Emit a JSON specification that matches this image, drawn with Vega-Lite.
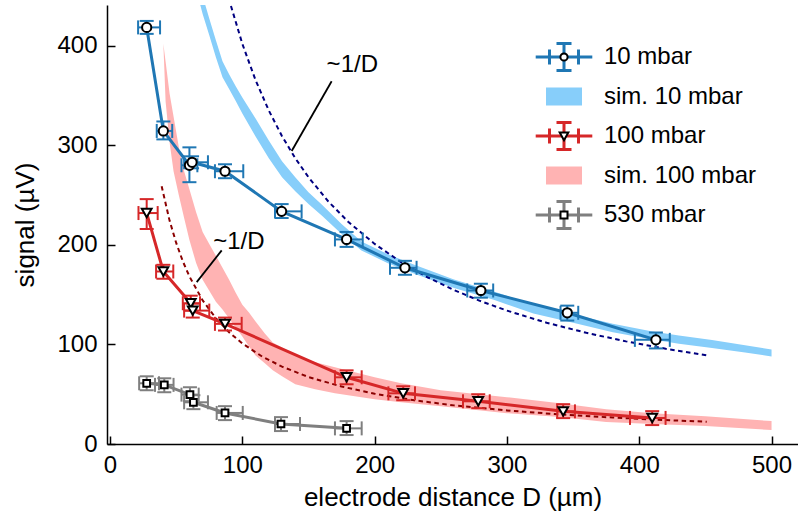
{
  "$schema": "https://vega.github.io/schema/vega-lite/v6.json",
  "width": 691,
  "height": 439,
  "autosize": {"type": "none"},
  "padding": {"left": 107, "top": 5, "right": 0, "bottom": 67},
  "background": "white",
  "config": {
    "font": "Liberation Sans",
    "view": {"stroke": null},
    "axis": {"labelColor": "black", "titleColor": "black", "domainColor": "black", "tickColor": "black", "grid": false, "labelFont": "Liberation Sans", "titleFont": "Liberation Sans", "titleFontWeight": "normal"}
  },
  "resolve": {"scale": {"shape": "independent", "fill": "independent", "stroke": "independent"}},
  "datasets": {
    "meas": [
      {"series": "10 mbar", "mk": "a", "D": 27.7, "S": 418.5, "xlo": 21.2, "xhi": 37.8, "ylo": 412, "yhi": 425},
      {"series": "10 mbar", "mk": "a", "D": 40.3, "S": 314.5, "xlo": 35.3, "xhi": 47, "ylo": 306, "yhi": 324},
      {"series": "10 mbar", "mk": "a", "D": 60, "S": 280, "xlo": 54, "xhi": 66, "ylo": 263, "yhi": 298},
      {"series": "10 mbar", "mk": "a", "D": 62, "S": 283, "xlo": 56, "xhi": 74, "ylo": 277, "yhi": 289},
      {"series": "10 mbar", "mk": "a", "D": 86.9, "S": 274, "xlo": 79.3, "xhi": 100.7, "ylo": 267, "yhi": 281},
      {"series": "10 mbar", "mk": "a", "D": 129.7, "S": 233.7, "xlo": 124.7, "xhi": 144.8, "ylo": 227, "yhi": 241},
      {"series": "10 mbar", "mk": "a", "D": 178.8, "S": 205.5, "xlo": 170, "xhi": 191, "ylo": 198, "yhi": 213},
      {"series": "10 mbar", "mk": "a", "D": 222.9, "S": 177, "xlo": 211.6, "xhi": 231.7, "ylo": 170, "yhi": 184},
      {"series": "10 mbar", "mk": "a", "D": 280.3, "S": 154.2, "xlo": 270, "xhi": 289.6, "ylo": 147, "yhi": 161},
      {"series": "10 mbar", "mk": "a", "D": 345.6, "S": 131.8, "xlo": 340.5, "xhi": 353.9, "ylo": 124, "yhi": 139},
      {"series": "10 mbar", "mk": "a", "D": 412.6, "S": 104.6, "xlo": 396.7, "xhi": 423.1, "ylo": 96, "yhi": 112},
      {"series": "100 mbar", "mk": "c", "D": 27.7, "S": 232, "xlo": 21.5, "xhi": 36, "ylo": 216, "yhi": 246},
      {"series": "100 mbar", "mk": "c", "D": 40.3, "S": 173.3, "xlo": 34.8, "xhi": 47.8, "ylo": 166, "yhi": 180},
      {"series": "100 mbar", "mk": "c", "D": 61, "S": 141.4, "xlo": 55, "xhi": 68, "ylo": 134, "yhi": 149},
      {"series": "100 mbar", "mk": "c", "D": 62.5, "S": 134, "xlo": 56, "xhi": 75, "ylo": 127, "yhi": 141},
      {"series": "100 mbar", "mk": "c", "D": 86.9, "S": 120.7, "xlo": 79.3, "xhi": 99.5, "ylo": 114, "yhi": 127},
      {"series": "100 mbar", "mk": "c", "D": 178.8, "S": 67, "xlo": 170, "xhi": 190.2, "ylo": 60, "yhi": 74},
      {"series": "100 mbar", "mk": "c", "D": 221.6, "S": 50.9, "xlo": 210.4, "xhi": 230.5, "ylo": 44, "yhi": 58},
      {"series": "100 mbar", "mk": "c", "D": 278.3, "S": 42.9, "xlo": 266.8, "xhi": 287, "ylo": 36, "yhi": 50},
      {"series": "100 mbar", "mk": "c", "D": 342.5, "S": 32.8, "xlo": 338, "xhi": 351.4, "ylo": 26, "yhi": 40},
      {"series": "100 mbar", "mk": "c", "D": 409.8, "S": 26.2, "xlo": 393, "xhi": 419.9, "ylo": 19, "yhi": 33},
      {"series": "530 mbar", "mk": "e", "D": 27.7, "S": 61, "xlo": 22, "xhi": 37, "ylo": 54, "yhi": 68},
      {"series": "530 mbar", "mk": "e", "D": 41, "S": 59.4, "xlo": 34, "xhi": 48, "ylo": 52, "yhi": 66},
      {"series": "530 mbar", "mk": "e", "D": 60.4, "S": 49.6, "xlo": 54, "xhi": 67, "ylo": 43, "yhi": 57},
      {"series": "530 mbar", "mk": "e", "D": 63, "S": 41.9, "xlo": 56, "xhi": 74, "ylo": 35, "yhi": 49},
      {"series": "530 mbar", "mk": "e", "D": 86.9, "S": 31.2, "xlo": 80.6, "xhi": 100.3, "ylo": 24, "yhi": 38},
      {"series": "530 mbar", "mk": "e", "D": 129.2, "S": 20.1, "xlo": 124.7, "xhi": 143.6, "ylo": 13, "yhi": 27},
      {"series": "530 mbar", "mk": "e", "D": 178.8, "S": 15.7, "xlo": 170, "xhi": 190.2, "ylo": 9, "yhi": 23}
    ],
    "sim": [
      {"series": "sim. 10 mbar", "D": 66, "lo": 452, "hi": 470},
      {"series": "sim. 10 mbar", "D": 70, "lo": 432, "hi": 450},
      {"series": "sim. 10 mbar", "D": 75, "lo": 410.5, "hi": 427.5},
      {"series": "sim. 10 mbar", "D": 80, "lo": 388.5, "hi": 405.5},
      {"series": "sim. 10 mbar", "D": 85, "lo": 368.5, "hi": 384.5},
      {"series": "sim. 10 mbar", "D": 90, "lo": 356.5, "hi": 371.5},
      {"series": "sim. 10 mbar", "D": 95, "lo": 344.5, "hi": 359.5},
      {"series": "sim. 10 mbar", "D": 100, "lo": 332, "hi": 348},
      {"series": "sim. 10 mbar", "D": 110, "lo": 309, "hi": 327},
      {"series": "sim. 10 mbar", "D": 120, "lo": 287, "hi": 305},
      {"series": "sim. 10 mbar", "D": 130, "lo": 268, "hi": 284},
      {"series": "sim. 10 mbar", "D": 140, "lo": 254, "hi": 268},
      {"series": "sim. 10 mbar", "D": 150, "lo": 241, "hi": 253},
      {"series": "sim. 10 mbar", "D": 160, "lo": 229.5, "hi": 240.5},
      {"series": "sim. 10 mbar", "D": 175, "lo": 211, "hi": 221},
      {"series": "sim. 10 mbar", "D": 190, "lo": 194.5, "hi": 203.5},
      {"series": "sim. 10 mbar", "D": 210, "lo": 181.5, "hi": 190.5},
      {"series": "sim. 10 mbar", "D": 230, "lo": 171, "hi": 180},
      {"series": "sim. 10 mbar", "D": 260, "lo": 156.8, "hi": 165.3},
      {"series": "sim. 10 mbar", "D": 290, "lo": 144.8, "hi": 153.3},
      {"series": "sim. 10 mbar", "D": 320, "lo": 131, "hi": 140},
      {"series": "sim. 10 mbar", "D": 350, "lo": 121.8, "hi": 130.3},
      {"series": "sim. 10 mbar", "D": 380, "lo": 112.3, "hi": 120.7},
      {"series": "sim. 10 mbar", "D": 410, "lo": 105, "hi": 113},
      {"series": "sim. 10 mbar", "D": 430, "lo": 100.6, "hi": 109},
      {"series": "sim. 10 mbar", "D": 455, "lo": 96.5, "hi": 104.5},
      {"series": "sim. 10 mbar", "D": 480, "lo": 91.8, "hi": 99.3},
      {"series": "sim. 10 mbar", "D": 500, "lo": 88, "hi": 95},
      {"series": "sim. 100 mbar", "D": 40.3, "lo": 402, "hi": 402},
      {"series": "sim. 100 mbar", "D": 42, "lo": 344, "hi": 384},
      {"series": "sim. 100 mbar", "D": 45, "lo": 303, "hi": 352},
      {"series": "sim. 100 mbar", "D": 48, "lo": 274, "hi": 329},
      {"series": "sim. 100 mbar", "D": 52, "lo": 250, "hi": 298},
      {"series": "sim. 100 mbar", "D": 56, "lo": 227, "hi": 274},
      {"series": "sim. 100 mbar", "D": 60, "lo": 205, "hi": 256},
      {"series": "sim. 100 mbar", "D": 65, "lo": 182, "hi": 233},
      {"series": "sim. 100 mbar", "D": 70, "lo": 165, "hi": 213},
      {"series": "sim. 100 mbar", "D": 75, "lo": 154, "hi": 201},
      {"series": "sim. 100 mbar", "D": 80, "lo": 143, "hi": 189},
      {"series": "sim. 100 mbar", "D": 85, "lo": 135, "hi": 177},
      {"series": "sim. 100 mbar", "D": 90, "lo": 126, "hi": 165},
      {"series": "sim. 100 mbar", "D": 95, "lo": 117, "hi": 152},
      {"series": "sim. 100 mbar", "D": 100, "lo": 108, "hi": 140},
      {"series": "sim. 100 mbar", "D": 105, "lo": 98, "hi": 132},
      {"series": "sim. 100 mbar", "D": 110, "lo": 89, "hi": 123},
      {"series": "sim. 100 mbar", "D": 117, "lo": 81, "hi": 111},
      {"series": "sim. 100 mbar", "D": 123, "lo": 74, "hi": 102},
      {"series": "sim. 100 mbar", "D": 130, "lo": 68, "hi": 97},
      {"series": "sim. 100 mbar", "D": 140, "lo": 60, "hi": 90},
      {"series": "sim. 100 mbar", "D": 155, "lo": 55, "hi": 82},
      {"series": "sim. 100 mbar", "D": 170, "lo": 51, "hi": 77},
      {"series": "sim. 100 mbar", "D": 185, "lo": 48, "hi": 72},
      {"series": "sim. 100 mbar", "D": 200, "lo": 45, "hi": 67},
      {"series": "sim. 100 mbar", "D": 220, "lo": 42, "hi": 61},
      {"series": "sim. 100 mbar", "D": 250, "lo": 38, "hi": 54},
      {"series": "sim. 100 mbar", "D": 300, "lo": 31, "hi": 47},
      {"series": "sim. 100 mbar", "D": 340, "lo": 27, "hi": 41},
      {"series": "sim. 100 mbar", "D": 375, "lo": 22, "hi": 35},
      {"series": "sim. 100 mbar", "D": 410, "lo": 20, "hi": 31},
      {"series": "sim. 100 mbar", "D": 450, "lo": 18, "hi": 28},
      {"series": "sim. 100 mbar", "D": 500, "lo": 14, "hi": 23}
    ],
    "fit": [
      {"fit": "10", "D": 91.4, "S": 440},
      {"fit": "10", "D": 100, "S": 402},
      {"fit": "10", "D": 110, "S": 365.5},
      {"fit": "10", "D": 120, "S": 335},
      {"fit": "10", "D": 130, "S": 309.2},
      {"fit": "10", "D": 140, "S": 287.1},
      {"fit": "10", "D": 150, "S": 268},
      {"fit": "10", "D": 165, "S": 243.6},
      {"fit": "10", "D": 180, "S": 223.3},
      {"fit": "10", "D": 200, "S": 201},
      {"fit": "10", "D": 220, "S": 182.7},
      {"fit": "10", "D": 240, "S": 167.5},
      {"fit": "10", "D": 260, "S": 154.6},
      {"fit": "10", "D": 280, "S": 143.6},
      {"fit": "10", "D": 300, "S": 134},
      {"fit": "10", "D": 330, "S": 121.8},
      {"fit": "10", "D": 360, "S": 111.7},
      {"fit": "10", "D": 390, "S": 103.1},
      {"fit": "10", "D": 420, "S": 95.7},
      {"fit": "10", "D": 452, "S": 88.9},
      {"fit": "100", "D": 39, "S": 259},
      {"fit": "100", "D": 45, "S": 224.4},
      {"fit": "100", "D": 50, "S": 202},
      {"fit": "100", "D": 55, "S": 183.6},
      {"fit": "100", "D": 60, "S": 168.3},
      {"fit": "100", "D": 70, "S": 144.3},
      {"fit": "100", "D": 80, "S": 126.3},
      {"fit": "100", "D": 90, "S": 112.2},
      {"fit": "100", "D": 100, "S": 101},
      {"fit": "100", "D": 115, "S": 87.8},
      {"fit": "100", "D": 130, "S": 77.7},
      {"fit": "100", "D": 150, "S": 67.3},
      {"fit": "100", "D": 175, "S": 57.7},
      {"fit": "100", "D": 200, "S": 50.5},
      {"fit": "100", "D": 230, "S": 43.9},
      {"fit": "100", "D": 260, "S": 38.8},
      {"fit": "100", "D": 300, "S": 33.7},
      {"fit": "100", "D": 340, "S": 29.7},
      {"fit": "100", "D": 380, "S": 26.6},
      {"fit": "100", "D": 420, "S": 24},
      {"fit": "100", "D": 451, "S": 22.4}
    ],
    "annLines": [
      {"D": 167.5, "S": 364.4, "D2": 137.3, "S2": 294.4},
      {"D": 84.4, "S": 194.5, "D2": 65.5, "S2": 162.6}
    ],
    "annText": [
      {"D": 163.7, "S": 373.8, "t": "~1/D"},
      {"D": 78, "S": 196.2, "t": "~1/D"}
    ]
  },
  "layer": [
    {
      "data": {"name": "sim"},
      "mark": {"type": "area", "clip": true, "opacity": 1},
      "encoding": {
        "x": {"field": "D", "type": "quantitative", "scale": {"domain": [-2.3, 520], "nice": false, "zero": false},
              "axis": {"values": [0, 100, 200, 300, 400, 500], "tickSize": -8, "tickWidth": 1.5, "domainWidth": 1.5, "labelFontSize": 24, "labelPadding": 17, "labelFlush": false, "title": "electrode distance D (µm)", "titleFontSize": 26, "titleY": 61, "titleBaseline": "alphabetic"}},
        "y": {"field": "hi", "type": "quantitative", "scale": {"domain": [0, 441], "nice": false, "zero": false},
              "axis": {"values": [0, 100, 200, 300, 400], "tickSize": -8, "tickWidth": 1.5, "domainWidth": 1.5, "labelFontSize": 24, "labelPadding": 18, "labelFlush": false, "title": "signal (µV)", "titleFontSize": 26, "titleX": -74, "titleY": 219.5, "titleBaseline": "alphabetic"}},
        "y2": {"field": "lo"},
        "color": {"field": "series", "type": "nominal",
          "scale": {"domain": ["10 mbar", "sim. 10 mbar", "100 mbar", "sim. 100 mbar", "530 mbar"], "range": ["#1f77b4", "#87cefa", "#d62728", "#ffb3b3", "#7f7f7f"]},
          "legend": null
        }
      }
    },
    {
      "data": {"name": "fit"},
      "transform": [{"filter": "datum.fit == '10'"}],
      "mark": {"type": "line", "stroke": "#000080", "strokeWidth": 2, "strokeDash": [4.5, 3.5], "clip": true},
      "encoding": {"x": {"field": "D", "type": "quantitative"}, "y": {"field": "S", "type": "quantitative"}}
    },
    {
      "data": {"name": "fit"},
      "transform": [{"filter": "datum.fit == '100'"}],
      "mark": {"type": "line", "stroke": "#8b0000", "strokeWidth": 2, "strokeDash": [4.5, 3.5], "clip": true},
      "encoding": {"x": {"field": "D", "type": "quantitative"}, "y": {"field": "S", "type": "quantitative"}}
    },
    {
      "data": {"name": "meas"},
      "mark": {"type": "line", "strokeWidth": 3},
      "encoding": {"x": {"field": "D", "type": "quantitative"}, "y": {"field": "S", "type": "quantitative"}, "color": {"field": "series", "type": "nominal", "legend": null}}
    },
    {
      "data": {"name": "meas"},
      "mark": {"type": "rule", "strokeWidth": 2},
      "encoding": {"x": {"field": "xlo", "type": "quantitative"}, "x2": {"field": "xhi"}, "y": {"field": "S", "type": "quantitative"}, "color": {"field": "series", "type": "nominal", "legend": null}}
    },
    {
      "data": {"name": "meas"},
      "mark": {"type": "rule", "strokeWidth": 2},
      "encoding": {"x": {"field": "D", "type": "quantitative"}, "y": {"field": "ylo", "type": "quantitative"}, "y2": {"field": "yhi"}, "color": {"field": "series", "type": "nominal", "legend": null}}
    },
    {
      "data": {"name": "meas"},
      "mark": {"type": "tick", "orient": "vertical", "size": 14, "thickness": 2, "opacity": 1},
      "encoding": {"x": {"field": "xlo", "type": "quantitative"}, "y": {"field": "S", "type": "quantitative"}, "color": {"field": "series", "type": "nominal", "legend": null}}
    },
    {
      "data": {"name": "meas"},
      "mark": {"type": "tick", "orient": "vertical", "size": 14, "thickness": 2, "opacity": 1},
      "encoding": {"x": {"field": "xhi", "type": "quantitative"}, "y": {"field": "S", "type": "quantitative"}, "color": {"field": "series", "type": "nominal", "legend": null}}
    },
    {
      "data": {"name": "meas"},
      "mark": {"type": "tick", "orient": "horizontal", "size": 14, "thickness": 2, "opacity": 1},
      "encoding": {"x": {"field": "D", "type": "quantitative"}, "y": {"field": "ylo", "type": "quantitative"}, "color": {"field": "series", "type": "nominal", "legend": null}}
    },
    {
      "data": {"name": "meas"},
      "mark": {"type": "tick", "orient": "horizontal", "size": 14, "thickness": 2, "opacity": 1},
      "encoding": {"x": {"field": "D", "type": "quantitative"}, "y": {"field": "yhi", "type": "quantitative"}, "color": {"field": "series", "type": "nominal", "legend": null}}
    },
    {
      "data": {"name": "annLines"},
      "mark": {"type": "rule", "color": "black", "strokeWidth": 1.8},
      "encoding": {"x": {"field": "D", "type": "quantitative"}, "y": {"field": "S", "type": "quantitative"}, "x2": {"field": "D2"}, "y2": {"field": "S2"}}
    },
    {
      "data": {"name": "annText"},
      "mark": {"type": "text", "align": "left", "baseline": "alphabetic", "fontSize": 24, "font": "Liberation Sans", "color": "black"},
      "encoding": {"x": {"field": "D", "type": "quantitative"}, "y": {"field": "S", "type": "quantitative"}, "text": {"field": "t"}}
    },
    {
      "data": {"name": "meas"},
      "transform": [{"filter": "datum.mk == 'a'"}],
      "mark": {"type": "point", "shape": "circle", "filled": true, "fill": "white", "stroke": "black", "strokeWidth": 2, "opacity": 1, "size": 85},
      "encoding": {"x": {"field": "D", "type": "quantitative"}, "y": {"field": "S", "type": "quantitative"}}
    },
    {
      "data": {"name": "meas"},
      "transform": [{"filter": "datum.mk == 'c'"}],
      "mark": {"type": "point", "shape": "triangle-down", "filled": true, "fill": "white", "stroke": "black", "strokeWidth": 2, "opacity": 1, "size": 95},
      "encoding": {"x": {"field": "D", "type": "quantitative"}, "y": {"field": "S", "type": "quantitative"}}
    },
    {
      "data": {"name": "meas"},
      "transform": [{"filter": "datum.mk == 'e'"}],
      "mark": {"type": "point", "shape": "square", "filled": true, "fill": "white", "stroke": "black", "strokeWidth": 2, "opacity": 1, "size": 45},
      "encoding": {"x": {"field": "D", "type": "quantitative"}, "y": {"field": "S", "type": "quantitative"}}
    },
    {
      "data": {"name": "meas"},
      "transform": [{"filter": "false"}],
      "mark": {"type": "point", "size": 400, "strokeWidth": 3},
      "encoding": {
        "x": {"field": "D", "type": "quantitative"},
        "y": {"field": "S", "type": "quantitative"},
        "fill": {"field": "series", "type": "nominal",
          "scale": {"domain": ["10 mbar", "sim. 10 mbar", "100 mbar", "sim. 100 mbar", "530 mbar"], "range": ["transparent", "#87cefa", "transparent", "#ffb3b3", "transparent"]},
          "legend": {"orient": "none", "legendX": 415, "legendY": 37, "title": null, "padding": 0, "symbolSize": 400, "symbolStrokeWidth": 3, "symbolOpacity": 1, "symbolOffset": 30, "clipHeight": 30, "labelFont": "Liberation Sans", "labelFontSize": 24, "labelColor": "black", "labelOffset": 28, "labelLimit": 300, "rowPadding": 9.5}},
        "stroke": {"field": "series", "type": "nominal",
          "scale": {"domain": ["10 mbar", "sim. 10 mbar", "100 mbar", "sim. 100 mbar", "530 mbar"], "range": ["#1f77b4", "transparent", "#d62728", "transparent", "#7f7f7f"]},
          "legend": {"orient": "none", "legendX": 415, "legendY": 37, "title": null, "padding": 0, "symbolSize": 400, "symbolStrokeWidth": 3, "symbolOpacity": 1, "symbolOffset": 30, "clipHeight": 30, "labelFont": "Liberation Sans", "labelFontSize": 24, "labelColor": "black", "labelOffset": 28, "labelLimit": 300, "rowPadding": 9.5}},
        "shape": {"field": "series", "type": "nominal",
          "scale": {"domain": ["10 mbar", "sim. 10 mbar", "100 mbar", "sim. 100 mbar", "530 mbar"], "range": ["M-2.83,0H2.83M-1.45,-0.75V0.75M1.45,-0.75V0.75M0,-1.35V1.35M-0.75,-1.35H0.75M-0.75,1.35H0.75", "M-1.8,-0.9H1.8V0.9H-1.8Z", "M-2.83,0H2.83M-1.45,-0.75V0.75M1.45,-0.75V0.75M0,-1.35V1.35M-0.75,-1.35H0.75M-0.75,1.35H0.75", "M-1.8,-0.9H1.8V0.9H-1.8Z", "M-2.83,0H2.83M-1.45,-0.75V0.75M1.45,-0.75V0.75M0,-1.35V1.35M-0.75,-1.35H0.75M-0.75,1.35H0.75"]},
          "legend": {"orient": "none", "legendX": 415, "legendY": 37, "title": null, "padding": 0, "symbolSize": 400, "symbolStrokeWidth": 3, "symbolOpacity": 1, "symbolOffset": 30, "clipHeight": 30, "labelFont": "Liberation Sans", "labelFontSize": 24, "labelColor": "black", "labelOffset": 28, "labelLimit": 300, "rowPadding": 9.5}}
      }
    },
    {
      "data": {"name": "meas"},
      "transform": [{"filter": "false"}],
      "mark": {"type": "point", "size": 400, "strokeWidth": 2},
      "encoding": {
        "x": {"field": "D", "type": "quantitative"},
        "y": {"field": "S", "type": "quantitative"},
        "fill": {"field": "mk", "type": "nominal",
          "scale": {"domain": ["a", "b", "c", "d", "e"], "range": ["white", "transparent", "white", "transparent", "white"]},
          "legend": {"orient": "none", "legendX": 415, "legendY": 37, "title": null, "padding": 0, "symbolSize": 400, "symbolStrokeWidth": 2, "symbolOpacity": 1, "symbolOffset": 30, "clipHeight": 30, "labelFontSize": 24, "labelExpr": "''", "labelOffset": 28, "rowPadding": 9.5}},
        "stroke": {"field": "mk", "type": "nominal",
          "scale": {"domain": ["a", "b", "c", "d", "e"], "range": ["black", "transparent", "black", "transparent", "black"]},
          "legend": {"orient": "none", "legendX": 415, "legendY": 37, "title": null, "padding": 0, "symbolSize": 400, "symbolStrokeWidth": 2, "symbolOpacity": 1, "symbolOffset": 30, "clipHeight": 30, "labelFontSize": 24, "labelExpr": "''", "labelOffset": 28, "rowPadding": 9.5}},
        "shape": {"field": "mk", "type": "nominal",
          "scale": {"domain": ["a", "b", "c", "d", "e"], "range": ["M0.36,0A0.36,0.36,0,1,1,-0.36,0A0.36,0.36,0,1,1,0.36,0Z", "M-0.1,-0.1H0.1V0.1H-0.1Z", "M-0.43,-0.34H0.43L0,0.42Z", "M-0.1,-0.1H0.1V0.1H-0.1Z", "M-0.35,-0.35H0.35V0.35H-0.35Z"]},
          "legend": {"orient": "none", "legendX": 415, "legendY": 37, "title": null, "padding": 0, "symbolSize": 400, "symbolStrokeWidth": 2, "symbolOpacity": 1, "symbolOffset": 30, "clipHeight": 30, "labelFontSize": 24, "labelExpr": "''", "labelOffset": 28, "rowPadding": 9.5}}
      }
    },
    {
      "mark": {"type": "rule", "color": "black", "strokeWidth": 1.5},
      "encoding": {"y": {"datum": 441, "type": "quantitative"}}
    }
  ]
}
